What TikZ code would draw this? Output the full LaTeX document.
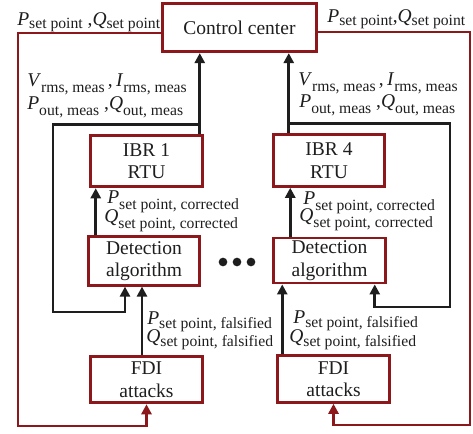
\documentclass[tikz,border=0pt]{standalone}
\usepackage{fontspec}
\setmainfont{Liberation Serif}
\usetikzlibrary{arrows.meta}
\definecolor{Attack}{RGB}{140,24,28}
\definecolor{Wire}{RGB}{30,30,30}
\newcommand{\subsz}{\fontsize{9.4}{11}\selectfont}
\newcommand{\SigQ}[3][3.6pt]{\textit{#2}\raisebox{-#1}{\subsz #3}}
\tikzset{
  unitbox/.style={draw=Attack,line width=1.7pt,fill=white,minimum width=67pt,
    minimum height=29pt,inner sep=0pt,align=center,text=Wire,
    font=\fontsize{11.7}{13.5}\selectfont},
  sig/.style={anchor=base west,inner sep=0pt,text=Wire,font=\fontsize{11.7}{14}\selectfont},
  measline/.style={draw=Wire,line width=1.6pt},
  measarr/.style={measline,-{Triangle[length=6pt,width=6pt]}},
  cmdline/.style={draw=Attack,line width=1.6pt},
  cmdarr/.style={cmdline,-{Triangle[length=6pt,width=6pt]}},
}

\begin{document}
\begin{tikzpicture}[x=0.6pt,y=-0.6pt]
\useasboundingbox (0,0) rectangle (473,433);
% boxes
\node[unitbox,minimum width=92pt] (cc) at (239.5,27.5) {Control center};
\node[unitbox,minimum height=31pt] (ibrA) at (146.5,161) {IBR 1\\RTU};
\node[unitbox] (detA) at (144,261) {Detection\\algorithm};
\node[unitbox,minimum height=28pt] (fdiA) at (146.5,379.5) {FDI\\attacks};
\node[unitbox,minimum height=31pt] (ibrB) at (329,160.5) {IBR 4\\RTU};
\node[unitbox,minimum height=27pt] (detB) at (329.5,260.5) {Detection\\algorithm};
\node[unitbox,minimum height=28pt] (fdiB) at (333.5,379) {FDI\\attacks};
% dots between the two units
\coordinate (gap) at (237,262);
\foreach \i in {-14,0,14}
  \fill[Wire] ([xshift=\i*0.6pt]gap) circle (2.6pt);
% left unit: measurements up, loop back to detection
\coordinate (upA) at ([xshift=-2.4pt]ibrA.north east);
\coordinate (tapA) at ([yshift=5.4pt]upA);
\coordinate (loopA) at (53,312);
\coordinate (inA) at ([xshift=-11.4pt]detA.south);
\draw[measarr] (upA) -- (upA |- cc.south);
\draw[measarr] (tapA) -| (loopA) -| (inA);
\coordinate (corrA) at ([xshift=5.4pt]detA.north west);
\draw[measarr] (corrA) -- (corrA |- ibrA.south);
\coordinate (falsA) at ([xshift=-2.7pt]fdiA.north);
\draw[measarr] (falsA) -- (falsA |- detA.south);
% right unit
\coordinate (upB) at ([xshift=10.2pt]ibrB.north west);
\coordinate (tapB) at ([yshift=6pt]upB);
\coordinate (loopB) at (450,307);
\coordinate (inB) at ([xshift=-7.2pt]detB.south east);
\draw[measarr] (upB) -- (upB |- cc.south);
\draw[measarr] (tapB) -| (loopB) -| (inB);
\coordinate (corrB) at ([xshift=10.8pt]detB.north west);
\draw[measarr] (corrB) -- (corrB |- ibrB.south);
\coordinate (falsB) at ([xshift=3.6pt]fdiB.north west);
\draw[measarr] (falsB) -- (falsB |- detB.south);
% set points from control center to the attackers
\coordinate (cmdA) at ([yshift=-3.3pt]cc.west);
\coordinate (cornerA) at (18,426);
\draw[cmdarr] (cmdA) -| (cornerA) -| (fdiA.south);
\coordinate (cmdB) at ([yshift=-2.7pt]cc.east);
\coordinate (cornerB) at (470,425);
\draw[cmdarr] (cmdB) -| (cornerB) -| (fdiB.south);
% labels
\node[sig] (setA) at (17,26) {\SigQ[1.5pt]{P}{set point} ,\SigQ[1.5pt]{Q}{set point}};
\node[sig] (setB) at (327,23) {\SigQ[1.5pt]{P}{set point},\SigQ[1.5pt]{Q}{set point}};
\node[sig] (measA1) at (27,87) {\SigQ{V}{rms, meas}\,,\,\SigQ{I}{rms, meas}};
\node[sig] (measA2) at (27,110) {\SigQ{P}{out, meas} ,\SigQ{Q}{out, meas}};
\node[sig] (measB1) at (298,86) {\SigQ{V}{rms, meas}\,,\,\SigQ{I}{rms, meas}};
\node[sig] (measB2) at (299,108) {\SigQ{P}{out, meas} ,\SigQ{Q}{out, meas}};
\node[sig] (corrA1) at (107,203) {\SigQ{P}{set point, corrected}};
\node[sig] (corrA2) at (104,222) {\SigQ{Q}{set point, corrected}};
\node[sig] (corrB1) at (303,204) {\SigQ{P}{set point, corrected}};
\node[sig] (corrB2) at (299,221) {\SigQ{Q}{set point, corrected}};
\node[sig] (falsA1) at (147,324) {\SigQ[2.8pt]{P}{set point, falsified}};
\node[sig] (falsA2) at (146,342) {\SigQ[2.8pt]{Q}{set point, falsified}};
\node[sig] (falsB1) at (293,323) {\SigQ[2.8pt]{P}{set point, falsified}};
\node[sig] (falsB2) at (289,342) {\SigQ[2.8pt]{Q}{set point, falsified}};
\end{tikzpicture}
\end{document}
